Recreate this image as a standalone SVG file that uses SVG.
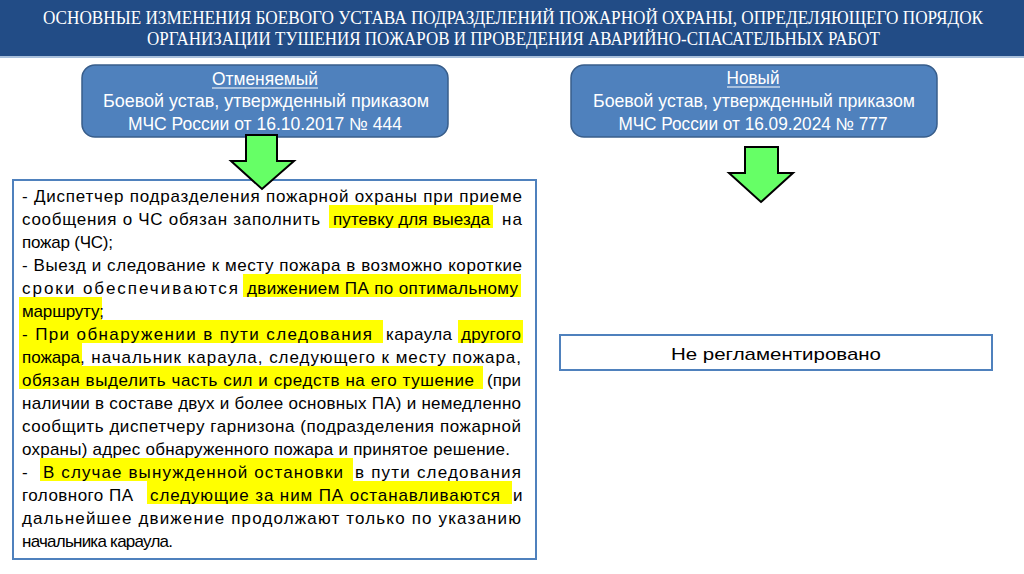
<svg xmlns="http://www.w3.org/2000/svg" width="1024" height="574" viewBox="0 0 1024 574">
<style>
.hdr{font-family:"Liberation Serif","Times New Roman",serif;font-size:19px;fill:#fff}
.bx{fill:#4F81BD;stroke:#385D8A;stroke-width:1.5}
.bt{font-family:"Liberation Sans",Arial,sans-serif;font-size:17.5px;fill:#fff;text-anchor:middle}
.t{font-family:"Liberation Sans",Arial,sans-serif;font-size:17px;fill:#000}
.hl{fill:#FFFF00}
.frame{fill:#fff;stroke:#4F81BD;stroke-width:2}
.arr{fill:#66FF66;stroke:#000;stroke-width:2;stroke-linejoin:miter}
</style>
<rect width="1024" height="574" fill="#fff"/>
<g id="header">
<rect x="0" y="0" width="1024" height="56" fill="#224C86"/>
<line x1="0" y1="57" x2="1024" y2="57" stroke="#A9C0DC" stroke-width="2"/>
<text class="hdr" transform="translate(43,24) scale(0.8,1)" x="0" y="0" textLength="1175" lengthAdjust="spacingAndGlyphs">ОСНОВНЫЕ ИЗМЕНЕНИЯ БОЕВОГО УСТАВА ПОДРАЗДЕЛЕНИЙ ПОЖАРНОЙ ОХРАНЫ, ОПРЕДЕЛЯЮЩЕГО ПОРЯДОК</text>
<text class="hdr" transform="translate(147,45) scale(0.8,1)" x="0" y="0" textLength="916" lengthAdjust="spacingAndGlyphs">ОРГАНИЗАЦИИ ТУШЕНИЯ ПОЖАРОВ И ПРОВЕДЕНИЯ АВАРИЙНО-СПАСАТЕЛЬНЫХ РАБОТ</text>
</g>
<g id="old-node">
<rect class="bx" x="82" y="65" width="366" height="72" rx="13"/>
<text class="bt" x="265" y="85" textLength="106" lengthAdjust="spacingAndGlyphs">Отменяемый</text>
<line x1="212" y1="88" x2="318" y2="88" stroke="#fff" stroke-width="1.2"/>
<text class="bt" x="266" y="107" textLength="326" lengthAdjust="spacingAndGlyphs">Боевой устав, утвержденный приказом</text>
<text class="bt" x="265" y="130" textLength="274" lengthAdjust="spacingAndGlyphs">МЧС России от 16.10.2017 № 444</text>
</g>
<g id="new-node">
<rect class="bx" x="571" y="65" width="366" height="72" rx="13"/>
<text class="bt" x="753" y="84" textLength="53" lengthAdjust="spacingAndGlyphs">Новый</text>
<line x1="727" y1="87" x2="780" y2="87" stroke="#fff" stroke-width="1.2"/>
<text class="bt" x="754" y="107" textLength="322" lengthAdjust="spacingAndGlyphs">Боевой устав, утвержденный приказом</text>
<text class="bt" x="753" y="130" textLength="269" lengthAdjust="spacingAndGlyphs">МЧС России от 16.09.2024 № 777</text>
</g>
<g id="old-content">
<rect class="frame" x="13" y="180" width="523" height="379"/>
<rect class="hl" x="329" y="205" width="164" height="23"/>
<rect class="hl" x="243" y="274" width="278" height="23"/>
<rect class="hl" x="19" y="297" width="83" height="23"/>
<rect class="hl" x="19" y="320" width="364" height="23"/>
<rect class="hl" x="458" y="320" width="65" height="23"/>
<rect class="hl" x="19" y="343" width="63" height="23"/>
<rect class="hl" x="19" y="366" width="464" height="23"/>
<rect class="hl" x="40" y="458" width="313" height="23"/>
<rect class="hl" x="147" y="481" width="365" height="23"/>
<text class="t" x="22" y="202" textLength="500" lengthAdjust="spacing">- Диспетчер подразделения пожарной охраны при приеме</text>
<text class="t" x="22" y="225" textLength="298" lengthAdjust="spacing">сообщения о ЧС обязан заполнить</text>
<text class="t" x="333" y="225" textLength="157" lengthAdjust="spacing">путевку для выезда</text>
<text class="t" x="502" y="225" textLength="20" lengthAdjust="spacing">на</text>
<text class="t" x="22" y="248" textLength="91" lengthAdjust="spacing">пожар (ЧС);</text>
<text class="t" x="22" y="271" textLength="500" lengthAdjust="spacing">- Выезд и следование к месту пожара в возможно короткие</text>
<text class="t" x="22" y="294" textLength="216" lengthAdjust="spacing">сроки обеспечиваются</text>
<text class="t" x="247" y="294" textLength="271" lengthAdjust="spacing">движением ПА по оптимальному</text>
<text class="t" x="22" y="317" textLength="82" lengthAdjust="spacing">маршруту;</text>
<text class="t" x="22" y="340" textLength="350" lengthAdjust="spacing">- При обнаружении в пути следования</text>
<text class="t" x="386" y="340" textLength="66" lengthAdjust="spacing">караула</text>
<text class="t" x="461" y="340" textLength="60" lengthAdjust="spacing">другого</text>
<text class="t" x="22" y="363" textLength="58" lengthAdjust="spacing">пожара</text>
<text class="t" x="80" y="363" textLength="441" lengthAdjust="spacing">, начальник караула, следующего к месту пожара,</text>
<text class="t" x="22" y="386" textLength="452" lengthAdjust="spacing">обязан выделить часть сил и средств на его тушение</text>
<text class="t" x="487" y="386" textLength="34" lengthAdjust="spacing">(при</text>
<text class="t" x="22" y="409" textLength="499" lengthAdjust="spacing">наличии в составе двух и более основных ПА) и немедленно</text>
<text class="t" x="22" y="432" textLength="499" lengthAdjust="spacing">сообщить диспетчеру гарнизона (подразделения пожарной</text>
<text class="t" x="22" y="455" textLength="488" lengthAdjust="spacing">охраны) адрес обнаруженного пожара и принятое решение.</text>
<text class="t" x="22" y="478">-</text>
<text class="t" x="43" y="478" textLength="300" lengthAdjust="spacing">В случае вынужденной остановки</text>
<text class="t" x="355" y="478" textLength="166" lengthAdjust="spacing">в пути следования</text>
<text class="t" x="22" y="501" textLength="111" lengthAdjust="spacing">головного ПА</text>
<text class="t" x="150" y="501" textLength="350" lengthAdjust="spacing">следующие за ним ПА останавливаются</text>
<text class="t" x="513" y="501">и</text>
<text class="t" x="22" y="524" textLength="499" lengthAdjust="spacing">дальнейшее движение продолжают только по указанию</text>
<text class="t" x="22" y="547" textLength="151" lengthAdjust="spacing">начальника караула.</text>
</g>
<g id="new-content">
<rect class="frame" x="560" y="335" width="432" height="35"/>
<text class="t" x="776" y="360" font-size="19.5" text-anchor="middle" textLength="210" lengthAdjust="spacingAndGlyphs">Не регламентировано</text>
</g>
<g id="connectors">
<polygon class="arr" points="246,135 277,135 277,161 294,161 262,189 231,161 246,161"/>
<polygon class="arr" points="745,147 778,147 778,173 793,173 761,202 729,173 745,173"/>
</g>
</svg>
